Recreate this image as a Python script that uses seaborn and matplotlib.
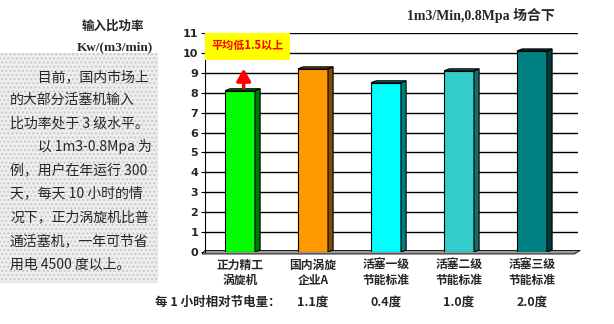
import matplotlib
matplotlib.use("Agg")
import matplotlib.pyplot as plt
import seaborn as sns
import pandas as pd
from matplotlib.patches import Polygon, Rectangle
import matplotlib.transforms as mtransforms

categories = ["正力精工\n涡旋机", "国内涡旋\n企业A", "活塞一级\n节能标准", "活塞二级\n节能标准", "活塞三级\n节能标准"]
values = [8.1, 9.2, 8.5, 9.1, 10.1]
front_colors = ["#00FF00", "#FF9900", "#00FFFF", "#33CCCC", "#008080"]
side_colors = ["#007A00", "#7F4C00", "#008080", "#1A6A6A", "#003C3C"]
savings = ["1.1度", "0.4度", "1.0度", "2.0度"]
savings_label = "每 1 小时相对节电量："
yticks = list(range(0, 12))
title = "1m3/Min,0.8Mpa 场合下"
ylabel1 = "输入比功率"
ylabel2 = "Kw/(m3/min)"
note = "平均低1.5以上"
para = ["　　目前，国内市场上", "的大部分活塞机输入", "比功率处于 3 级水平。",
        "　　以 1m3-0.8Mpa 为", "例，用户在年运行 300", "天，每天 10 小时的情",
        "况下，正力涡旋机比普", "通活塞机，一年可节省", "用电 4500 度以上。"]

sns.set_theme(style="white")
plt.rcParams['font.family'] = ['Noto Sans CJK SC', 'DejaVu Sans']
CJK = ['Noto Sans CJK SC', 'DejaVu Sans']

W, H = 614, 324
fig = plt.figure(figsize=(W / 100, H / 100), dpi=100)
fig.patch.set_facecolor("white")

def fx(px):
    return px / W

def fy(py):
    return 1 - py / H

ax = fig.add_axes([fx(205), fy(252), fx(578) - fx(205), (252 - 33) / H])
df = pd.DataFrame({"cat": categories, "val": values})
sns.barplot(data=df, x="cat", y="val", hue="cat", palette=front_colors, legend=False,
            saturation=1, width=0.41, edgecolor="black", linewidth=0.8, ax=ax, zorder=3)
bars = list(ax.patches)
ax.set_xlim(-0.48, 4.63)
ax.set_ylim(0, 11)
ax.set_yticks(yticks)
ax.set_yticklabels([str(t) for t in yticks], fontsize=8, fontweight="bold", family="DejaVu Sans")
ax.set_xticks(range(len(categories)))
ax.set_xticklabels(categories, fontsize=8.5, fontweight="bold", family=CJK, linespacing=1.25)
ax.tick_params(axis="x", length=0, pad=5)
ax.tick_params(axis="y", length=3, width=0.8, color="black", pad=2, direction="out", left=True)
ax.set_xlabel("")
ax.set_ylabel("")
for s in ["top", "right", "bottom"]:
    ax.spines[s].set_visible(False)
ax.spines["left"].set_color("black")
ax.spines["left"].set_linewidth(0.8)
for t in yticks[1:]:
    ax.axhline(t, color="black", lw=1.0, zorder=1)

# floor
floor = Polygon([(-0.52, -0.1), (4.58, -0.1), (4.66, 0.08), (-0.48, 0.08)], closed=True,
                facecolor="#999999", edgecolor="black", lw=0.6, zorder=2, clip_on=False)
ax.add_patch(floor)

# 3D side and top faces
dx, dy = 0.07, 0.1
for p, sc in zip(bars, side_colors):
    x0 = p.get_x()
    w = p.get_width()
    h = p.get_height()
    x1 = x0 + w
    side = Polygon([(x1, 0), (x1 + dx, dy), (x1 + dx, h + dy), (x1, h)], closed=True,
                   facecolor=sc, edgecolor="black", lw=0.8, zorder=3)
    top = Polygon([(x0, h), (x0 + dx, h + dy), (x1 + dx, h + dy), (x1, h)], closed=True,
                  facecolor=sc, edgecolor="black", lw=0.8, zorder=3)
    ax.add_patch(side)
    ax.add_patch(top)

# yellow note box and arrow
ax.add_patch(Rectangle((-0.48, 9.65), 1.16, 1.35, facecolor="#FFFF00", edgecolor="none",
                       zorder=4, clip_on=False))
ax.text(0.1, 10.35, note, color="#FF0000", fontsize=8, fontweight="bold", ha="center",
        va="center", family=CJK, zorder=5)
ax.annotate("", xy=(0.05, 9.35), xytext=(0.05, values[0]),
            arrowprops=dict(arrowstyle="-|>,head_width=0.35,head_length=0.6", color="#FF0000", lw=2.5),
            zorder=5)

# savings row
trans = mtransforms.blended_transform_factory(ax.transData, fig.transFigure)
for i, s in enumerate(savings):
    ax.text(i + 1, fy(302), s, transform=trans, ha="center", va="center", fontsize=9,
            fontweight="bold", family=CJK)
fig.text(fx(155), fy(302), savings_label, ha="left", va="center", fontsize=9, fontweight="bold",
         family=CJK)

# titles
fig.text(fx(481), fy(15), title, ha="center", va="center", fontsize=10, fontweight="bold",
         family=["Liberation Serif", "Noto Sans CJK SC"])
fig.text(fx(113), fy(26), ylabel1, ha="center", va="center", fontsize=9, fontweight="bold", family=CJK)
fig.text(fx(153), fy(47), ylabel2, ha="right", va="center", fontsize=9.5, fontweight="bold",
         family=["Liberation Serif"])

# left paragraph panel
bg = Rectangle((0, fy(283)), fx(158), (283 - 53) / H, transform=fig.transFigure,
               facecolor="#eeeeee", edgecolor="#c8c8c8", hatch="....", lw=0, zorder=0)
fig.patches.append(bg)
ys = [77, 100, 124, 147, 170, 193, 217, 241, 265]
for line, y in zip(para, ys):
    fig.text(fx(10), fy(y), line, ha="left", va="center", fontsize=10, family=CJK)

fig.savefig("out.png", dpi=100, facecolor="white")
